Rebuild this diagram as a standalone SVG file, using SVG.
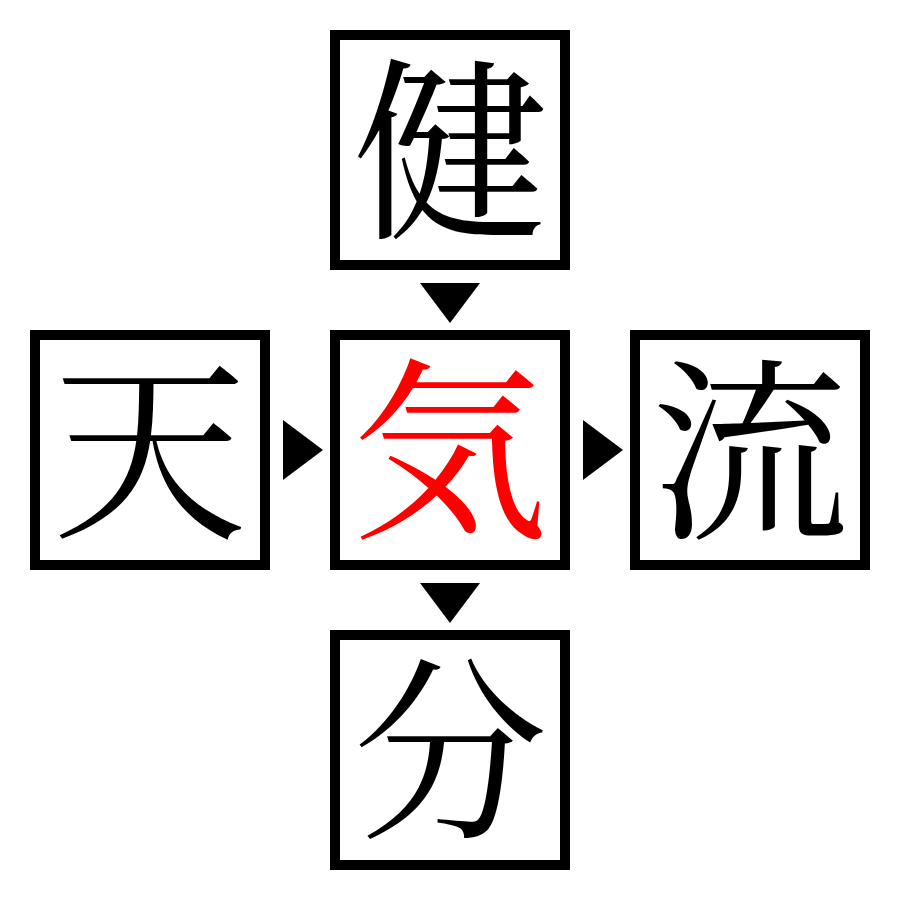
<svg xmlns="http://www.w3.org/2000/svg" width="900" height="900" viewBox="0 0 900 900">
<style>
.box{fill:#fff;stroke:#000;stroke-width:10}
.ch{font-family:"Noto Serif CJK JP","Noto Sans CJK JP",serif;font-size:196px;text-anchor:middle;dominant-baseline:central;fill:#000}
.red{fill:#ff0000}
.arr{fill:#000}
</style>
<rect width="900" height="900" fill="#fff"/>
<g id="n-top"><rect class="box" x="335" y="35" width="230" height="230"/><text class="ch" x="450" y="138">健</text></g>
<g id="n-left"><rect class="box" x="35" y="335" width="230" height="230"/><text class="ch" x="150" y="438">天</text></g>
<g id="n-center"><rect class="box" x="335" y="335" width="230" height="230"/><text class="ch red" x="450" y="438">気</text></g>
<g id="n-right"><rect class="box" x="635" y="335" width="230" height="230"/><text class="ch" x="750" y="438">流</text></g>
<g id="n-bottom"><rect class="box" x="335" y="635" width="230" height="230"/><text class="ch" x="450" y="738">分</text></g>
<g id="connectors">
<polygon class="arr" points="420,283 480,283 450,323"/>
<polygon class="arr" points="283,420 323,450 283,480"/>
<polygon class="arr" points="583,420 623,450 583,480"/>
<polygon class="arr" points="420,583 480,583 450,623"/>
</g>
</svg>
